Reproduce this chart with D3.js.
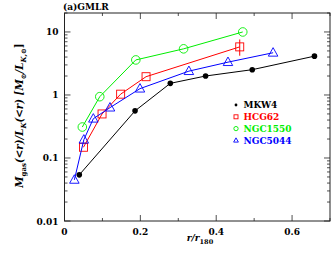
<!DOCTYPE html>
<html>
<head>
<meta charset="utf-8">
<script src="https://cdn.jsdelivr.net/npm/d3@7"></script>
<style>
  body { margin: 0; background: #fff; }
  text { font-family: "DejaVu Serif", serif; font-weight: bold; }
</style>
</head>
<body>
<div id="chart"></div>
<script>
// data
var mkw4X = [0.039, 0.186, 0.279, 0.372, 0.495, 0.659];
var mkw4Y = [0.054, 0.56, 1.53, 2.0, 2.52, 4.13];

var hcg62X = [0.050, 0.099, 0.148, 0.215, 0.462];
var hcg62Y = [0.148, 0.50, 1.03, 1.95, 5.8];
var hcg62Lo = [0.148, 0.50, 1.03, 1.95, 4.2];
var hcg62Hi = [0.148, 0.50, 1.03, 1.95, 7.6];

var ngc1550X = [0.047, 0.093, 0.188, 0.314, 0.470];
var ngc1550Y = [0.31, 0.94, 3.6, 5.4, 10.0];

var ngc5044X = [0.026, 0.051, 0.076, 0.120, 0.199, 0.328, 0.431, 0.550];
var ngc5044Y = [0.045, 0.195, 0.42, 0.63, 1.26, 2.39, 3.32, 4.68];

var xTicks = [0, 0.2, 0.4, 0.6];
var yTicks = [0.01, 0.1, 1, 10];
var legendNames = ["MKW4", "HCG62", "NGC1550", "NGC5044"];

var width = 332, height = 254;
var margin = {left: 64.5, right: 2, top: 13, bottom: 33};

var svg = d3.select("#chart").append("svg")
    .attr("width", width)
    .attr("height", height);

var x = d3.scaleLinear().domain([0, 0.7]).range([margin.left, width - margin.right]);
var y = d3.scaleLog().domain([0.01, 20]).range([height - margin.bottom, margin.top]);

var x0 = x.range()[0], x1 = x.range()[1], y0 = y.range()[0], y1 = y.range()[1];

// minor ticks
var xMinor = d3.range(0, 0.71, 0.1);
var yMinor = [];
[0.01, 0.1, 1, 10].forEach(function (d) {
    for (var k = 2; k <= 9; k++) if (d * k <= 20) yMinor.push(d * k);
});

var ticks = svg.append("g").attr("stroke", "#222").attr("stroke-width", 0.8);

xMinor.forEach(function (v) {
    var major = xTicks.some(function (t) { return Math.abs(t - v) < 1e-6; });
    var len = major ? 6 : 3;
    ticks.append("line").attr("x1", x(v)).attr("x2", x(v)).attr("y1", y0).attr("y2", y0 - len);
    ticks.append("line").attr("x1", x(v)).attr("x2", x(v)).attr("y1", y1).attr("y2", y1 + len);
});
yTicks.concat(yMinor).forEach(function (v) {
    var major = yTicks.indexOf(v) >= 0;
    var len = major ? 6 : 3;
    ticks.append("line").attr("x1", x0).attr("x2", x0 + len).attr("y1", y(v)).attr("y2", y(v));
    ticks.append("line").attr("x1", x1).attr("x2", x1 - len).attr("y1", y(v)).attr("y2", y(v));
});

svg.append("rect")
    .attr("x", x0).attr("y", y1)
    .attr("width", x1 - x0).attr("height", y0 - y1)
    .attr("fill", "none").attr("stroke", "#222").attr("stroke-width", 1);

// tick labels
svg.selectAll(".xl").data(xTicks).enter().append("text")
    .attr("x", function (d) { return x(d); })
    .attr("y", y0 + 14)
    .attr("text-anchor", "middle")
    .attr("font-size", 9)
    .text(function (d) { return d === 0 ? "0" : d3.format(".1f")(d); });

svg.selectAll(".yl").data(yTicks).enter().append("text")
    .attr("x", x0 - 6)
    .attr("y", function (d) { return y(d) + 3.5; })
    .attr("text-anchor", "end")
    .attr("font-size", 9)
    .text(function (d) { return d >= 1 ? d3.format("d")(d) : String(d); });

// title & axis labels
svg.append("text").attr("x", 63).attr("y", 9.5).attr("font-size", 9).text("(a)GMLR");

var xl = svg.append("text").attr("x", 200).attr("y", 241)
    .attr("text-anchor", "middle").attr("font-size", 9).attr("font-style", "italic");
xl.append("tspan").text("r/r");
xl.append("tspan").attr("font-size", 6.5).attr("dy", 2.5).attr("font-style", "normal").text("180");

var yl = svg.append("text")
    .attr("transform", "translate(23," + 115.5 + ") rotate(-90)")
    .attr("text-anchor", "middle").attr("font-size", 10.2).attr("font-style", "italic");
yl.append("tspan").text("M");
yl.append("tspan").attr("font-size", 7).attr("dy", 3).attr("font-style", "normal").text("gas");
yl.append("tspan").attr("dy", -3).text("(<r)/L");
yl.append("tspan").attr("font-size", 7).attr("dy", 3).text("K");
yl.append("tspan").attr("dy", -3).text("(<r)  [M");
yl.append("tspan").attr("font-size", 7).attr("dy", 3).attr("font-style", "normal").text("\u2299");
yl.append("tspan").attr("dy", -3).text("/L");
yl.append("tspan").attr("font-size", 7).attr("dy", 3).text("K,\u2299");
yl.append("tspan").attr("dy", -3).attr("font-style", "normal").text("]");

var line = d3.line().x(function (d) { return x(d[0]); }).y(function (d) { return y(d[1]); });

function zip(xs, ys) { return xs.map(function (v, i) { return [v, ys[i]]; }); }

var series = [
    {name: "MKW4", color: "#000000", pts: zip(mkw4X, mkw4Y), sym: "dot"},
    {name: "HCG62", color: "#ff0000", pts: zip(hcg62X, hcg62Y), sym: "square"},
    {name: "NGC1550", color: "#00ee00", pts: zip(ngc1550X, ngc1550Y), sym: "circle"},
    {name: "NGC5044", color: "#0000ff", pts: zip(ngc5044X, ngc5044Y), sym: "triangle"}
];

function drawSym(g, sym, cx, cy, color, s) {
    if (sym === "dot") {
        g.append("circle").attr("cx", cx).attr("cy", cy).attr("r", 2.8 * s).attr("fill", color);
    } else if (sym === "square") {
        g.append("rect").attr("x", cx - 4 * s).attr("y", cy - 4 * s)
            .attr("width", 8 * s).attr("height", 8 * s)
            .attr("fill", "none").attr("stroke", color).attr("stroke-width", 0.9);
    } else if (sym === "circle") {
        g.append("circle").attr("cx", cx).attr("cy", cy).attr("r", 4.3 * s)
            .attr("fill", "none").attr("stroke", color).attr("stroke-width", 0.9);
    } else {
        var h = 8.5 * s, w = 9.5 * s;
        g.append("path")
            .attr("d", "M" + cx + "," + (cy - h * 0.6) + "L" + (cx + w / 2) + "," + (cy + h * 0.4) +
                "L" + (cx - w / 2) + "," + (cy + h * 0.4) + "Z")
            .attr("fill", "none").attr("stroke", color).attr("stroke-width", 0.9);
    }
}

series.forEach(function (s) {
    var g = svg.append("g");
    g.append("path").datum(s.pts).attr("d", line)
        .attr("fill", "none").attr("stroke", s.color).attr("stroke-width", 1);
    s.pts.forEach(function (p) { drawSym(g, s.sym, x(p[0]), y(p[1]), s.color, 1); });
});

// error bars on HCG62
svg.append("g").selectAll("line").data(hcg62X).enter().append("line")
    .attr("x1", function (d) { return x(d); })
    .attr("x2", function (d) { return x(d); })
    .attr("y1", function (d, i) { return y(hcg62Lo[i]); })
    .attr("y2", function (d, i) { return y(hcg62Hi[i]); })
    .attr("stroke", "#ff0000").attr("stroke-width", 1);

// legend
var lg = svg.append("g");
legendNames.forEach(function (n, i) {
    var s = series[i];
    var ly = 105 + i * 11.8;
    drawSym(lg, s.sym, 236, ly, s.color, 0.5);
    lg.append("text").attr("x", 243.5).attr("y", ly + 3.3)
        .attr("font-size", 9).attr("fill", s.color).text(n);
});
</script>
</body>
</html>
